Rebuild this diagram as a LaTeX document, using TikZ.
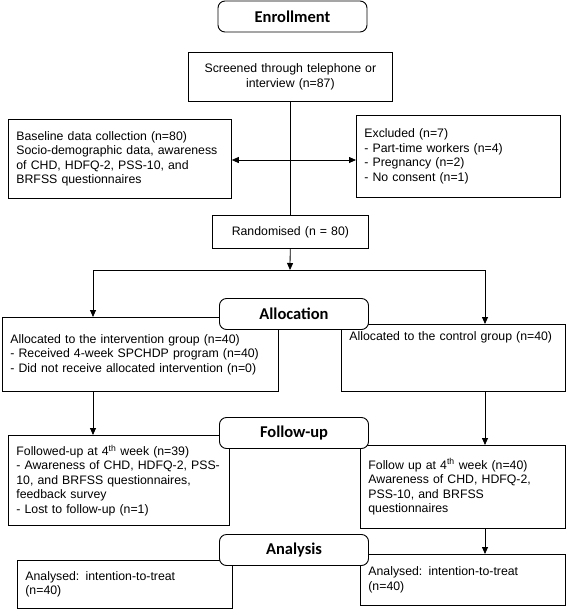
\documentclass[tikz,border=0pt]{standalone}
\usepackage{fontspec}
\setmainfont{Liberation Sans}
\newfontfamily\headfont{Carlito}
\usetikzlibrary{positioning, arrows.meta}

\begin{document}
\begin{tikzpicture}[x=1pt, y=-1pt, line width=0.8pt,
    box/.style={draw, fill=white, anchor=north west, align=left, inner xsep=8pt, font={\fontsize{12.3}{14.5}\selectfont}},
    stage/.style={draw, fill=white, line width=0.9pt, rounded corners=7pt, minimum width=149pt, minimum height=31pt, font={\headfont\bfseries\fontsize{16.5}{18}\selectfont}},
    arr/.style={-{Triangle[length=7pt, width=6pt]}},
    dbl/.style={{Triangle[length=7pt, width=6pt]}-{Triangle[length=7pt, width=6pt]}}]
    \useasboundingbox (0,0) rectangle (567,611);

    % Define nodes
    \node [box, align=center, text width=188pt, minimum height=49pt] (screen) at (188,52) {Screened through telephone or\\interview (n=87)};
    \node [box, text width=207pt, minimum height=79pt] (baseline) at (8,119) {Baseline data collection (n=80)\\Socio-demographic data, awareness\\of CHD, HDFQ-2, PSS-10, and\\BRFSS questionnaires};
    \node [box, text width=188pt, minimum height=82pt] (excluded) at (356,115) {Excluded (n=7)\\- Part-time workers (n=4)\\- Pregnancy (n=2)\\- No consent (n=1)};
    \node [box, align=center, text width=140pt, minimum height=33pt] (random) at (212,215) {Randomised (n = 80)};
    \node [box, text width=260pt, minimum height=74pt] (interv) at (2,317) {Allocated to the intervention group (n=40)\\- Received 4-week SPCHDP program (n=40)\\- Did not receive allocated intervention (n=0)};
    \node [box, text width=208pt, inner ysep=4pt, text height=12pt, text depth=47pt] (control) at (341,324) {Allocated to the control group (n=40)};
    \node [box, text width=205pt, minimum height=90pt] (followed) at (8,435) {Followed-up at 4\textsuperscript{th} week (n=39)\\- Awareness of CHD, HDFQ-2, PSS-\\10, and BRFSS questionnaires,\\feedback survey\\- Lost to follow-up (n=1)};
    \node [box, text width=189pt, minimum height=83pt] (ctrlfol) at (360,445) {Follow up at 4\textsuperscript{th} week (n=40)\\Awareness of CHD, HDFQ-2,\\PSS-10, and BRFSS\\questionnaires};
    \node [box, text width=199pt, minimum height=48pt] (anleft) at (17,560) {Analysed: intention-to-treat\\(n=40)};
    \node [box, text width=189pt, minimum height=51pt] (anright) at (360,554) {Analysed: intention-to-treat\\(n=40)};

    \coordinate (ex) at (290,160);
    \coordinate (jm) at (290,270);
    \coordinate (jl) at (93,270);
    \coordinate (jr) at (485,270);

    % Arrows from screening to randomisation
    \draw (screen) -- (random);
    \draw [dbl] (baseline.east |- ex) -- (excluded.west |- ex);

    % Split into the two groups
    \draw [arr] (random) -- (jm);
    \draw (jl) -- (jr);
    \draw [arr] (jl) -- (jl |- interv.north);
    \draw [arr] (jr) -- (jr |- control.north);

    % Follow-up and analysis
    \draw [arr] (interv.south -| jl) -- (followed.north -| jl);
    \draw [arr] (control.south -| jr) -- (ctrlfol.north -| jr);
    \draw [arr] (ctrlfol.south -| jr) -- (anright.north -| jr);

    % Stage labels
    \node [stage] (enroll) at (292.5,16.5) {Enrollment};
    \node [stage] (alloc) at (294,314) {Allocation};
    \node [stage] (follow) at (294,433) {Follow-up};
    \node [stage] (analysis) at (294,550) {Analysis};
\end{tikzpicture}
\end{document}
